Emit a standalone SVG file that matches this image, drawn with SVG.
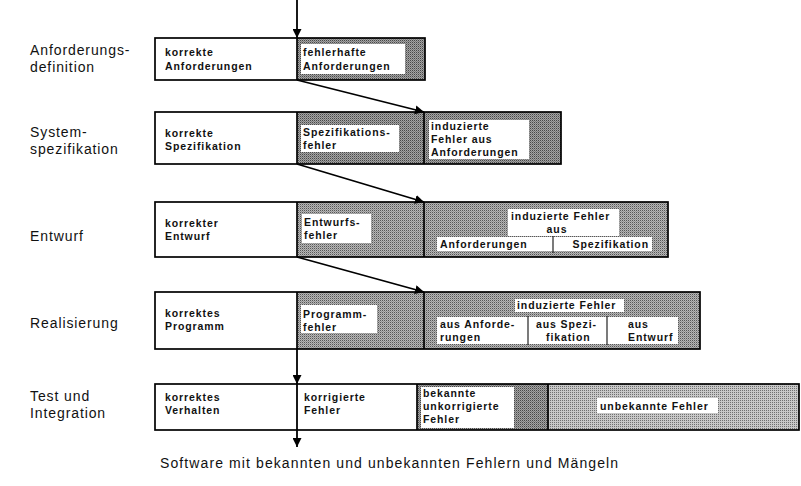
<svg xmlns="http://www.w3.org/2000/svg" width="801" height="486" viewBox="0 0 801 486">
  <defs>
    <!-- halftone screens used for the error areas -->
    <pattern id="screen-dark" width="2" height="2" patternUnits="userSpaceOnUse">
      <rect width="2" height="2" fill="#a4a4a4"/>
      <rect x="0" y="0" width="1" height="1" fill="#484848"/>
      <rect x="1" y="1" width="1" height="1" fill="#7a7a7a"/>
    </pattern>
    <pattern id="screen-mid" width="2" height="2" patternUnits="userSpaceOnUse">
      <rect width="2" height="2" fill="#b6b6b6"/>
      <rect x="0" y="0" width="1" height="1" fill="#565656"/>
      <rect x="1" y="1" width="1" height="1" fill="#929292"/>
    </pattern>
    <pattern id="screen-light" width="2" height="2" patternUnits="userSpaceOnUse">
      <rect width="2" height="2" fill="#c8c8c8"/>
      <rect x="0" y="0" width="1" height="1" fill="#707070"/>
    </pattern>
    <marker id="head" viewBox="0 0 10 10" refX="10" refY="5" markerWidth="9" markerHeight="9" markerUnits="userSpaceOnUse" orient="auto">
      <path d="M0,0 L10,5 L0,10 z" fill="#000"/>
    </marker>
  </defs>
  <style>
    .frame { fill: none; stroke: #000; stroke-width: 1.7; }
    .div { stroke: #000; stroke-width: 1.7; }
    .white { fill: #fff; }
    .label { fill: #fff; }
    .phase { font-family: "Liberation Sans", Arial, sans-serif; font-size: 14px; letter-spacing: 0.9px; fill: #111; }
    .t { font-family: "Liberation Sans", Arial, sans-serif; font-size: 10.5px; font-weight: bold; letter-spacing: 0.9px; fill: #111; }
    .foot { font-family: "Liberation Sans", Arial, sans-serif; font-size: 14px; letter-spacing: 1.1px; fill: #111; }
    .flow { fill: none; stroke: #000; stroke-width: 1.8; }
    .sub { stroke: #222; stroke-width: 1.2; }
  </style>

  <rect width="801" height="486" fill="#fff"/>

  <!-- phase names -->
  <g id="phases">
    <text class="phase" x="30" y="55">Anforderungs-</text>
    <text class="phase" x="30" y="72">definition</text>
    <text class="phase" x="30" y="137">System-</text>
    <text class="phase" x="30" y="154">spezifikation</text>
    <text class="phase" x="30" y="241">Entwurf</text>
    <text class="phase" x="30" y="328">Realisierung</text>
    <text class="phase" x="30" y="401">Test und</text>
    <text class="phase" x="30" y="418">Integration</text>
  </g>

  <!-- Anforderungsdefinition -->
  <g id="row-anforderungen">
    <rect x="155" y="38" width="142" height="42" class="white"/>
    <rect x="297" y="38" width="128" height="42" fill="url(#screen-dark)"/>
    <rect x="301" y="44" width="104" height="30" class="label"/>
    <rect x="155" y="38" width="270" height="42" class="frame"/>
    <line x1="297" y1="38" x2="297" y2="80" class="div"/>
    <text class="t" x="165" y="56">korrekte</text>
    <text class="t" x="165" y="70">Anforderungen</text>
    <text class="t" x="303" y="56">fehlerhafte</text>
    <text class="t" x="303" y="70">Anforderungen</text>
  </g>

  <!-- Systemspezifikation -->
  <g id="row-spezifikation">
    <rect x="155" y="112" width="142" height="52" class="white"/>
    <rect x="297" y="112" width="264" height="52" fill="url(#screen-dark)"/>
    <rect x="301" y="125" width="98" height="27" class="label"/>
    <rect x="429" y="120" width="100" height="39" class="label"/>
    <rect x="155" y="112" width="406" height="52" class="frame"/>
    <line x1="297" y1="112" x2="297" y2="164" class="div"/>
    <line x1="424" y1="112" x2="424" y2="164" class="div"/>
    <text class="t" x="165" y="137">korrekte</text>
    <text class="t" x="165" y="150">Spezifikation</text>
    <text class="t" x="303" y="136">Spezifikations-</text>
    <text class="t" x="303" y="149">fehler</text>
    <text class="t" x="431" y="130">induzierte</text>
    <text class="t" x="431" y="143">Fehler aus</text>
    <text class="t" x="431" y="156">Anforderungen</text>
  </g>

  <!-- Entwurf -->
  <g id="row-entwurf">
    <rect x="155" y="202" width="142" height="55" class="white"/>
    <rect x="297" y="202" width="371" height="55" fill="url(#screen-mid)"/>
    <rect x="302" y="214" width="69" height="29" class="label"/>
    <rect x="508" y="209" width="111" height="27" class="label"/>
    <rect x="437" y="237" width="215" height="14" class="label"/>
    <line x1="553" y1="236" x2="553" y2="253" class="sub"/>
    <rect x="155" y="202" width="513" height="55" class="frame"/>
    <line x1="297" y1="202" x2="297" y2="257" class="div"/>
    <line x1="424" y1="202" x2="424" y2="257" class="div"/>
    <text class="t" x="165" y="227">korrekter</text>
    <text class="t" x="165" y="240">Entwurf</text>
    <text class="t" x="304" y="226">Entwurfs-</text>
    <text class="t" x="304" y="239">fehler</text>
    <text class="t" x="511" y="220">induzierte Fehler</text>
    <text class="t" x="557" y="233" text-anchor="middle">aus</text>
    <text class="t" x="440" y="248">Anforderungen</text>
    <text class="t" x="649" y="248" text-anchor="end">Spezifikation</text>
  </g>

  <!-- Realisierung -->
  <g id="row-realisierung">
    <rect x="155" y="292" width="142" height="57" class="white"/>
    <rect x="297" y="292" width="403" height="57" fill="url(#screen-mid)"/>
    <rect x="301" y="305" width="76" height="28" class="label"/>
    <rect x="515" y="299" width="109" height="13" class="label"/>
    <rect x="437" y="317" width="241" height="27" class="label"/>
    <line x1="528" y1="316" x2="528" y2="345" class="sub"/>
    <line x1="607" y1="316" x2="607" y2="345" class="sub"/>
    <rect x="155" y="292" width="545" height="57" class="frame"/>
    <line x1="297" y1="292" x2="297" y2="349" class="div"/>
    <line x1="424" y1="292" x2="424" y2="349" class="div"/>
    <text class="t" x="165" y="317">korrektes</text>
    <text class="t" x="165" y="330">Programm</text>
    <text class="t" x="303" y="318">Programm-</text>
    <text class="t" x="303" y="331">fehler</text>
    <text class="t" x="517" y="309">induzierte Fehler</text>
    <text class="t" x="440" y="328">aus Anforde-</text>
    <text class="t" x="440" y="341">rungen</text>
    <text class="t" x="536" y="328">aus Spezi-</text>
    <text class="t" x="546" y="341">fikation</text>
    <text class="t" x="628" y="328">aus</text>
    <text class="t" x="628" y="341">Entwurf</text>
  </g>

  <!-- Test und Integration -->
  <g id="row-test">
    <rect x="155" y="384" width="262" height="46" class="white"/>
    <rect x="417" y="384" width="131" height="46" fill="url(#screen-dark)"/>
    <rect x="548" y="384" width="251" height="46" fill="url(#screen-light)"/>
    <rect x="421" y="387" width="93" height="41" class="label"/>
    <rect x="597" y="398" width="121" height="15" class="label"/>
    <rect x="155" y="384" width="644" height="46" class="frame"/>
    <line x1="417" y1="384" x2="417" y2="430" class="div"/>
    <line x1="548" y1="384" x2="548" y2="430" class="div"/>
    <text class="t" x="165" y="401">korrektes</text>
    <text class="t" x="165" y="414">Verhalten</text>
    <text class="t" x="304" y="401">korrigierte</text>
    <text class="t" x="304" y="414">Fehler</text>
    <text class="t" x="423" y="397">bekannte</text>
    <text class="t" x="423" y="410">unkorrigierte</text>
    <text class="t" x="423" y="423">Fehler</text>
    <text class="t" x="600" y="410">unbekannte Fehler</text>
  </g>

  <!-- flow of faults between phases -->
  <g id="connectors">
    <line x1="297" y1="0" x2="297" y2="38" class="flow" marker-end="url(#head)"/>
    <line x1="297" y1="80" x2="424" y2="112" class="flow" marker-end="url(#head)"/>
    <line x1="297" y1="164" x2="424" y2="202" class="flow" marker-end="url(#head)"/>
    <line x1="297" y1="257" x2="424" y2="292" class="flow" marker-end="url(#head)"/>
    <line x1="297" y1="349" x2="297" y2="384" class="flow" marker-end="url(#head)"/>
    <line x1="297" y1="384" x2="297" y2="447" class="flow" marker-end="url(#head)"/>
  </g>

  <text class="foot" x="160" y="468">Software mit bekannten und unbekannten Fehlern und Mängeln</text>
</svg>
